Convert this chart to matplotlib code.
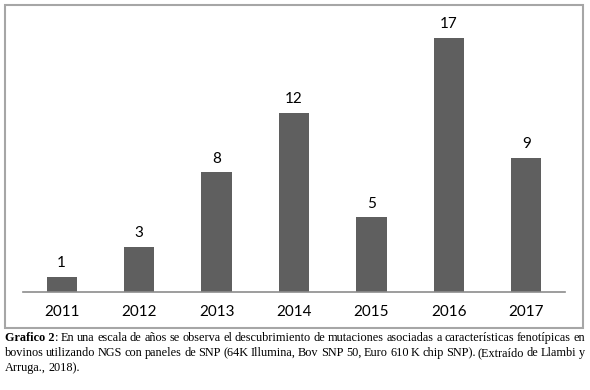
import matplotlib.pyplot as plt
from matplotlib.patches import Rectangle

years = ['2011', '2012', '2013', '2014', '2015', '2016', '2017']
mutaciones = [1, 3, 8, 12, 5, 17, 9]

caption_bold = 'Grafico 2'
caption_lines = [
    ': En una escala de años se observa el descubrimiento de mutaciones asociadas a características fenotípicas en',
    'bovinos utilizando NGS con paneles de SNP (64K Illumina, Bov SNP 50, Euro 610 K chip SNP). (Extraído de Llambi y',
    'Arruga., 2018).',
]

W, H = 590, 390
fig = plt.figure(figsize=(W / 100, H / 100), dpi=100)
fig.patch.set_facecolor('white')

# marco del grafico
fig.patches.append(Rectangle((5 / W, 1 - 328 / H), 578 / W, 323 / H,
                             transform=fig.transFigure, fill=False,
                             edgecolor='#a6a6a6', linewidth=1.5))

ax = fig.add_axes([23 / W, 1 - 292 / H, 542 / W, 282 / H])
x = range(len(years))
bars = ax.bar(x, mutaciones, width=0.39, color='#5f5f5f')
ax.set_xlim(-0.5, len(years) - 0.5)
ax.set_ylim(0, 282 / 14.94)
for b, v in zip(bars, mutaciones):
    ax.text(b.get_x() + b.get_width() / 2, v + 0.45, str(v),
            ha='center', va='bottom', fontsize=11, family='Lato')
ax.set_xticks(list(x))
ax.set_xticklabels(years, fontsize=11, family='Lato')
ax.tick_params(axis='x', length=0, pad=9)
ax.set_yticks([])
for s in ['top', 'right', 'left']:
    ax.spines[s].set_visible(False)
ax.spines['bottom'].set_color('#8c8c8c')
ax.spines['bottom'].set_linewidth(1.2)

# pie de figura, justificado a mano
serif = 'Liberation Serif'
fs = 8.8
renderer = fig.canvas.get_renderer()
left, right = 5, 585
ys = [338, 353, 368]


def width_px(t):
    return t.get_window_extent(renderer).width


for i, line in enumerate(ys):
    y = 1 - line / H
    words = caption_lines[i].split(' ')
    pieces = []
    if i == 0:
        t = fig.text(left / W, y, caption_bold, fontsize=fs, family=serif,
                     weight='bold', va='center')
        pieces.append([t, width_px(t)])
        t = fig.text(0, y, words[0], fontsize=fs, family=serif, va='center')
        pieces.append([t, width_px(t), 'glue'])
        words = words[1:]
    for w in words:
        t = fig.text(0, y, w, fontsize=fs, family=serif, va='center')
        pieces.append([t, width_px(t)])
    if i < 2:
        total = sum(p[1] for p in pieces)
        ngaps = sum(1 for p in pieces[1:] if len(p) == 2)
        gap = (right - left - total) / ngaps
    else:
        gap = 2.3
    cx = left
    for k, p in enumerate(pieces):
        if k > 0 and len(p) == 2:
            cx += gap
        p[0].set_x(cx / W)
        cx += p[1]

fig.savefig('out.png', dpi=100)
